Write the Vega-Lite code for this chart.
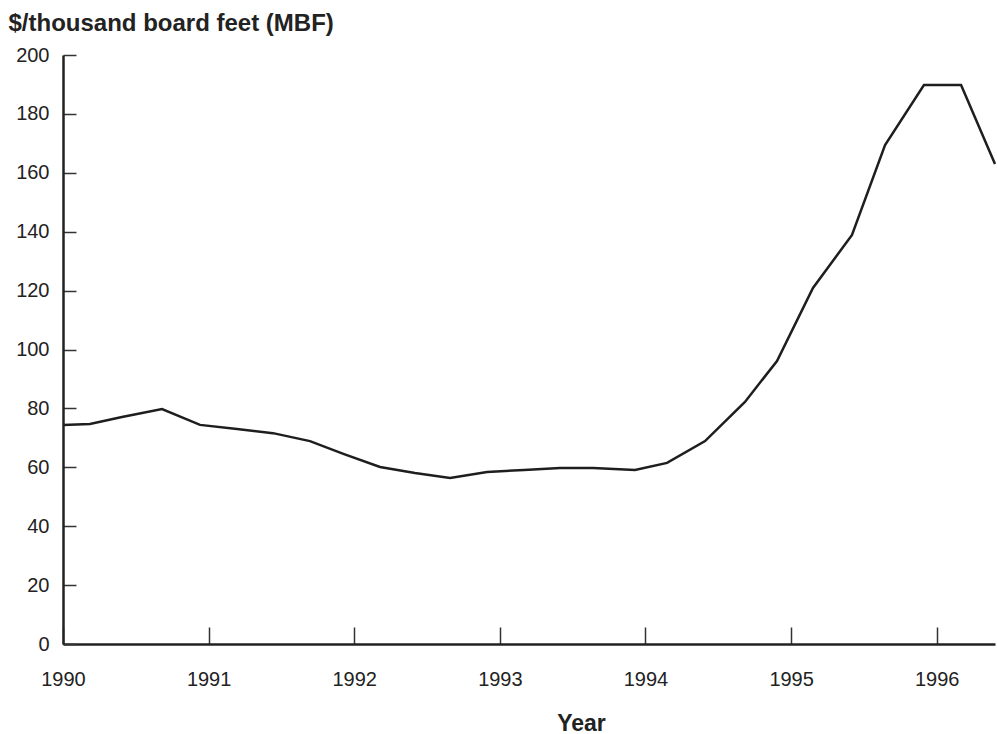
{
  "$schema": "https://vega.github.io/schema/vega-lite/v6.json",
  "width": 932,
  "height": 589,
  "autosize": {"type": "none"},
  "padding": {"left": 63, "top": 55, "right": 2, "bottom": 90},
  "background": "white",
  "config": {
    "view": {"stroke": null},
    "font": "Liberation Sans",
    "axis": {"grid": false, "domainColor": "#222222", "domainWidth": 2.5, "tickColor": "#333333", "tickWidth": 1.5, "labelColor": "#222222", "labelFont": "Liberation Sans", "labelFontSize": 20, "titleFont": "Liberation Sans", "titleColor": "#222222"}
  },
  "data": {
    "values": [
      {"year": 1990.0, "price": 74.4},
      {"year": 1990.185, "price": 74.7},
      {"year": 1990.405, "price": 77.1},
      {"year": 1990.68, "price": 79.8},
      {"year": 1990.941, "price": 74.4},
      {"year": 1991.195, "price": 73.0},
      {"year": 1991.442, "price": 71.6},
      {"year": 1991.696, "price": 68.9},
      {"year": 1991.93, "price": 64.5},
      {"year": 1992.177, "price": 60.1},
      {"year": 1992.417, "price": 58.1},
      {"year": 1992.658, "price": 56.4},
      {"year": 1992.912, "price": 58.4},
      {"year": 1993.166, "price": 59.1},
      {"year": 1993.413, "price": 59.8},
      {"year": 1993.64, "price": 59.8},
      {"year": 1993.928, "price": 59.1},
      {"year": 1994.148, "price": 61.5},
      {"year": 1994.409, "price": 68.9},
      {"year": 1994.683, "price": 82.2},
      {"year": 1994.903, "price": 96.1},
      {"year": 1995.15, "price": 120.9},
      {"year": 1995.418, "price": 138.9},
      {"year": 1995.645, "price": 169.4},
      {"year": 1995.912, "price": 189.8},
      {"year": 1996.167, "price": 189.8},
      {"year": 1996.4, "price": 163.0}
    ]
  },
  "mark": {"type": "line", "color": "#1e1e1e", "strokeWidth": 2.5, "clip": false},
  "encoding": {
    "x": {
      "field": "year",
      "type": "quantitative",
      "scale": {"domain": [1990, 1996.4], "nice": false, "zero": false},
      "axis": {
        "title": "Year",
        "values": [1990, 1991, 1992, 1993, 1994, 1995, 1996],
        "format": "d",
        "tickSize": -17,
        "labelPadding": 42,
        "labelBaseline": "top",
        "labelFlush": false,
        "titleFontSize": 23,
        "titleFontWeight": "bold",
        "titleBaseline": "alphabetic",
        "titleAnchor": "start",
        "titleAlign": "center",
        "titleX": 518,
        "titleY": 86
      }
    },
    "y": {
      "field": "price",
      "type": "quantitative",
      "scale": {"domain": [0, 200], "nice": false},
      "axis": {
        "title": "$/thousand board feet (MBF)",
        "values": [0, 20, 40, 60, 80, 100, 120, 140, 160, 180, 200],
        "tickSize": -13,
        "labelPadding": 27,
        "labelBaseline": "middle",
        "labelFlush": false,
        "titleFontSize": 24,
        "titleFontWeight": "bold",
        "titleAngle": 0,
        "titleAlign": "left",
        "titleAnchor": "start",
        "titleBaseline": "alphabetic",
        "titleX": -55,
        "titleY": -25
      }
    }
  }
}
